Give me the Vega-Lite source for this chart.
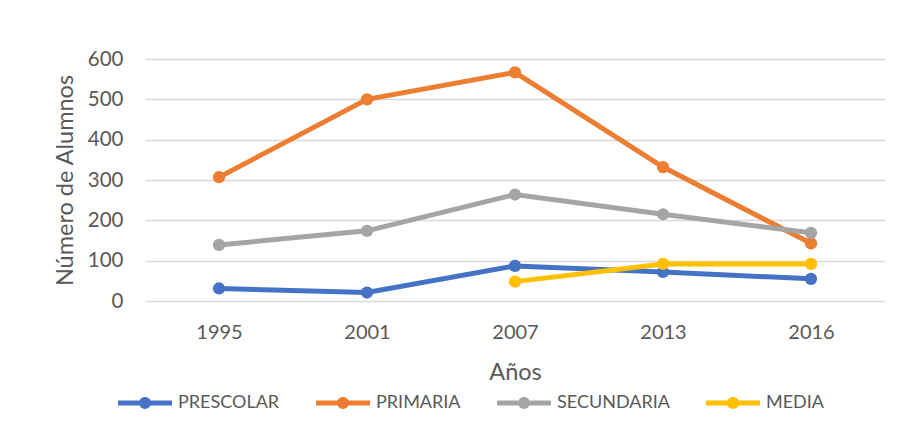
{
  "$schema": "https://vega.github.io/schema/vega-lite/v6.json",
  "width": 740,
  "height": 242,
  "autosize": "none",
  "padding": {"left": 145, "top": 59, "right": 28, "bottom": 131},
  "background": "white",
  "config": {"view": {"stroke": null}, "font": "Lato"},
  "data": {
    "values": [
      {"anio": "1995", "nivel": "PRESCOLAR", "alumnos": 31},
      {"anio": "2001", "nivel": "PRESCOLAR", "alumnos": 21},
      {"anio": "2007", "nivel": "PRESCOLAR", "alumnos": 87},
      {"anio": "2013", "nivel": "PRESCOLAR", "alumnos": 72},
      {"anio": "2016", "nivel": "PRESCOLAR", "alumnos": 55},
      {"anio": "1995", "nivel": "PRIMARIA", "alumnos": 307},
      {"anio": "2001", "nivel": "PRIMARIA", "alumnos": 500},
      {"anio": "2007", "nivel": "PRIMARIA", "alumnos": 567},
      {"anio": "2013", "nivel": "PRIMARIA", "alumnos": 332},
      {"anio": "2016", "nivel": "PRIMARIA", "alumnos": 143},
      {"anio": "1995", "nivel": "SECUNDARIA", "alumnos": 139},
      {"anio": "2001", "nivel": "SECUNDARIA", "alumnos": 174},
      {"anio": "2007", "nivel": "SECUNDARIA", "alumnos": 264},
      {"anio": "2013", "nivel": "SECUNDARIA", "alumnos": 215},
      {"anio": "2016", "nivel": "SECUNDARIA", "alumnos": 169},
      {"anio": "2007", "nivel": "MEDIA", "alumnos": 48},
      {"anio": "2013", "nivel": "MEDIA", "alumnos": 92},
      {"anio": "2016", "nivel": "MEDIA", "alumnos": 92}
    ]
  },
  "mark": {"type": "line", "strokeWidth": 5, "point": {"filled": true, "size": 150}},
  "encoding": {
    "x": {
      "field": "anio",
      "type": "ordinal",
      "scale": {"type": "point", "padding": 0.5},
      "axis": {
        "title": "Años",
        "labelAngle": 0,
        "labelFontSize": 20,
        "labelColor": "#595959",
        "labelPadding": 21,
        "ticks": false,
        "domain": false,
        "grid": false,
        "titleFontSize": 23.5,
        "titleFontWeight": "normal",
        "titleColor": "#595959",
        "titlePadding": 18
      }
    },
    "y": {
      "field": "alumnos",
      "type": "quantitative",
      "scale": {"domain": [0, 600], "nice": false},
      "axis": {
        "title": "Número de Alumnos",
        "values": [0, 100, 200, 300, 400, 500, 600],
        "labelFontSize": 20.5,
        "labelColor": "#595959",
        "labelPadding": 22,
        "ticks": false,
        "domain": false,
        "grid": true,
        "gridColor": "#D9D9D9",
        "gridWidth": 1.5,
        "titleFontSize": 23.5,
        "titleFontWeight": "normal",
        "titleColor": "#595959",
        "titlePadding": 10
      }
    },
    "color": {
      "field": "nivel",
      "type": "nominal",
      "sort": ["PRESCOLAR", "PRIMARIA", "SECUNDARIA", "MEDIA"],
      "scale": {
        "domain": ["PRESCOLAR", "PRIMARIA", "SECUNDARIA", "MEDIA"],
        "range": ["#4472C4", "#ED7D31", "#A5A5A5", "#FFC000"]
      },
      "legend": {
        "title": null,
        "orient": "none",
        "direction": "horizontal",
        "legendX": -27,
        "legendY": 317,
        "symbolType": "M-1,-0.09H-0.2V0.09H-1Z M0.2,-0.09H1V0.09H0.2Z M0.22,0A0.22,0.22 0 1,1 -0.22,0A0.22,0.22 0 1,1 0.22,0Z",
        "symbolSize": 2916,
        "symbolStrokeWidth": 0,
        "labelFontSize": 18,
        "labelColor": "#595959",
        "labelOffset": 6,
        "columnPadding": 36,
        "encode": {"symbols": {"update": {"fill": {"scale": "color", "field": "value"}, "fillOpacity": {"value": 1}, "strokeWidth": {"value": 0}}}}
      }
    }
  }
}
